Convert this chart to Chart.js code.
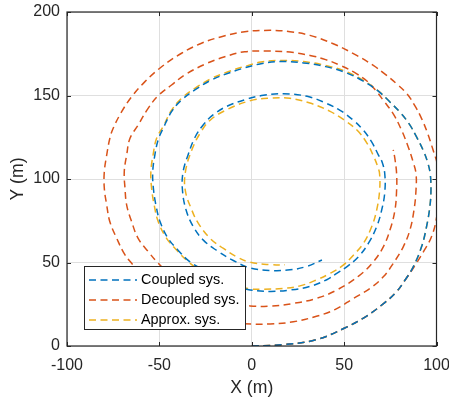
<!DOCTYPE html>
<html>
<head>
<meta charset="utf-8">
<script src="https://cdn.jsdelivr.net/npm/chart.js@4"></script>
<style>
  html, body { margin: 0; padding: 0; background: #fff; }
  #wrap { width: 449px; height: 403px; }
</style>
</head>
<body>
<div id="wrap"><canvas id="chart" width="449" height="403"></canvas></div>
<script>
// trajectories (X / Y in metres)
const seriesLabels = ['Coupled sys.', 'Decoupled sys.', 'Approx. sys.'];
const xTicks = [-100, -50, 0, 50, 100];
const yTicks = [0, 50, 100, 150, 200];

const coupledX = [0, 17, 35, 50, 62, 72, 78, 83, 87.4, 91.9, 94.6, 96.4, 97, 96.6, 95.2, 92.8, 89.2, 85.2, 80.2, 74.8,
  68.5, 60.4, 51.4, 40, 28, 15, 5, -3.8, -12.8, -21.8, -30.8, -38, -43.4, -47.9, -50.5, -52.5, -53.6, -53.2, -51.8, -49.6,
  -45.3, -40, -33.6, -26, -17, -8.5, -0.9, 9.9, 20.7, 31.5, 40.6, 46, 51.4, 57.7, 63.1, 67.6, 70.3, 72, 72, 70.6,
  68.5, 64.9, 60.4, 55, 47.8, 40, 30, 17, 6.3, -2.7, -13.5, -20.8, -26.2, -30.7, -34.3, -37.2, -37.5, -35.5, -31.6, -26.2,
  -19, -10, -0.9, 9.9, 20.7, 29.6, 38];
const coupledY = [0, 0.8, 3.8, 10.6, 17.8, 26, 32, 39.5, 47.4, 59.4, 71.4, 83.3, 93.3, 103, 110, 117.2, 125.2, 133, 140, 146.1,
  152.6, 158.6, 163.5, 167.3, 169.5, 170.3, 169, 166.6, 163.3, 159.3, 153.3, 147.3, 140.3, 130.4, 124, 114, 104, 94, 84, 74.4,
  64.5, 57.5, 50.5, 45.5, 40.2, 36, 33.6, 32.7, 33.5, 35.7, 39.7, 43.5, 47.4, 53.4, 61.4, 71.4, 81.3, 92, 103, 110,
  114.5, 122.2, 129.2, 135.2, 141.1, 145.5, 149.5, 151.1, 150.1, 147.8, 143.5, 138.5, 132.5, 125, 115, 104, 93.3, 81.3, 71.4, 63.4,
  57.2, 51.2, 46.8, 45.2, 45.6, 47.6, 51.5];

const decoupledX = [0, 17, 35, 50, 62, 72, 78, 83, 88.5, 93.5, 97.5, 100.1, 101, 101, 100.6, 98.2, 94.8, 92, 88.5, 84,
  78.4, 72.5, 65.8, 56.8, 44.1, 31.5, 20.7, 10, -3.8, -16.4, -27.2, -38, -48.8, -57.8, -65, -70.4, -75, -76.8, -78.5, -79.8,
  -79.8, -78.5, -76.8, -73.1, -68.6, -65, -56, -44, -29, -14, 0, 9.9, 22.5, 35, 45, 55, 64, 71.2, 76.6, 82,
  85.6, 87.8, 88.9, 88.9, 87.4, 84.7, 81.1, 76.6, 71.2, 67.5, 62.5, 56, 48, 40, 31.5, 20.7, 9.9, -3.8, -14.6, -25.4,
  -36.2, -43.4, -50.6, -56.1, -61.5, -65.9, -67.7, -69, -68.6, -67.7, -65, -61.5, -56, -50.6, -42, -30, -15, -0.9, 9.9, 22.5,
  35, 46, 58, 65.8, 71.2, 74.8, 77.5, 78.4, 78.4, 77.5, 76.6];
const decoupledY = [0, 0.8, 3.8, 10.6, 17.8, 26, 32, 39.5, 48.5, 57.5, 66, 77.3, 89.3, 100, 108, 117.2, 128.5, 136, 143.5, 151,
  157, 162.5, 168, 174, 181, 186, 188.2, 189, 188.2, 185.2, 181.3, 175.3, 167.2, 158.3, 149.3, 140.3, 130.4, 124.4, 114.4, 104.4,
  94.4, 84.4, 74.4, 64.5, 54.5, 49.5, 37.5, 27, 19, 14.5, 13.2, 13.2, 14.5, 17.8, 21.8, 28.5, 34.5, 41.4, 49.5, 59.4,
  69.4, 81.3, 93.3, 103.3, 110, 119.2, 129.2, 139, 147.1, 152.5, 158.5, 163.5, 168, 171.5, 174, 176, 176.6, 176.2, 173.2, 168.7,
  162.3, 156.3, 149.9, 142.3, 132.3, 124.4, 114.4, 104.4, 94.4, 84.4, 74.4, 64.5, 56.5, 49.5, 40.5, 31.5, 26, 24, 23.9, 25.5,
  28.5, 33.5, 42, 50.4, 59.4, 69.4, 81.3, 93.3, 103.3, 112, 117.5];

const approxX = [0, 17, 35, 50, 62, 72, 78, 83, 87.4, 91.9, 94.6, 96.4, 97, 96.6, 95.2, 92.8, 89.2, 85.2, 80.2, 74.8,
  68.5, 60.4, 51.4, 40, 28, 15, 5, -3.8, -12.8, -21.8, -30.8, -38, -43.4, -47.9, -51.5, -53.4, -54.6, -54.2, -52.8, -50.6,
  -46.1, -40.7, -34.4, -27.5, -18.5, -9, -0.9, 6.3, 17.1, 26.1, 35.1, 42.4, 49.5, 55, 60.4, 64.9, 67.6, 69.2, 69.2, 68.3,
  66, 62.5, 57.2, 49.8, 42.4, 31.5, 20.7, 9.9, -1, -13.5, -22.5, -27.9, -32.4, -35.8, -36, -32.4, -28.9, -22.5, -15.3, -8.1,
  -1.8, 9.9, 18];
const approxY = [0, 0.8, 3.8, 10.6, 17.8, 26, 32, 39.5, 47.4, 59.4, 71.4, 83.3, 93.3, 103, 110, 117.2, 125.2, 133, 140, 146.1,
  152.8, 159, 164.2, 168, 170.3, 171, 170, 167.4, 164.2, 160.2, 154.3, 148.3, 141.2, 131.5, 124.4, 114.4, 104.4, 94.4, 84.4, 74.4,
  64.5, 57.5, 50.5, 45, 40, 36.3, 34.2, 34, 34.5, 36, 39.6, 43.5, 48.4, 54.4, 61.4, 71.4, 81.3, 93, 103, 107,
  113.5, 121.2, 129, 135.5, 140.5, 145.5, 148.3, 148.4, 146.8, 141.5, 135.2, 127.5, 117.5, 105, 93.3, 81.3, 73.4, 64.4, 58.4, 53.4,
  50.4, 48.7, 48.6];

const colors = ['#0072BD', '#D95319', '#EDB120'];
const dash = [7, 4.5];
const FONT = '"Liberation Sans", Arial, Helvetica, sans-serif';
const INK = '#262626';
const NONE = 'rgba(0,0,0,0)';

const toPoints = (xs, ys) => xs.map((x, i) => ({ x, y: ys[i] }));
const seriesData = [toPoints(coupledX, coupledY), toPoints(decoupledX, decoupledY), toPoints(approxX, approxY)];

// box + inward ticks like the original axes
const frame = {
  id: 'frame',
  afterDatasetsDraw(chart) {
    const { ctx, chartArea: a, scales: { x, y } } = chart;
    ctx.save();
    ctx.strokeStyle = INK;
    ctx.lineWidth = 1;
    ctx.beginPath();
    xTicks.forEach(v => {
      const px = Math.round(x.getPixelForValue(v)) + 0.5;
      ctx.moveTo(px, a.bottom); ctx.lineTo(px, a.bottom - 4);
      ctx.moveTo(px, a.top); ctx.lineTo(px, a.top + 4);
    });
    yTicks.forEach(v => {
      const py = Math.round(y.getPixelForValue(v)) + 0.5;
      ctx.moveTo(a.left, py); ctx.lineTo(a.left + 4, py);
      ctx.moveTo(a.right, py); ctx.lineTo(a.right - 4, py);
    });
    ctx.stroke();
    ctx.lineWidth = 1.2;
    ctx.strokeRect(a.left, a.top, a.right - a.left, a.bottom - a.top);
    ctx.restore();
  }
};

// legend box in the lower left corner of the axes
const boxLegend = {
  id: 'boxLegend',
  afterDraw(chart) {
    const { ctx } = chart;
    ctx.save();
    ctx.fillStyle = '#fff';
    ctx.fillRect(84, 266, 161, 63);
    ctx.strokeStyle = INK;
    ctx.lineWidth = 1;
    ctx.strokeRect(84.5, 266.5, 161, 63);
    ctx.font = '14.4px ' + FONT;
    ctx.textBaseline = 'middle';
    seriesLabels.forEach((lab, i) => {
      const yy = 280 + i * 20;
      ctx.strokeStyle = colors[i];
      ctx.lineWidth = 1.5;
      ctx.setLineDash(dash);
      ctx.beginPath();
      ctx.moveTo(89, yy); ctx.lineTo(137, yy);
      ctx.stroke();
      ctx.setLineDash([]);
      ctx.fillStyle = '#000';
      ctx.fillText(lab, 141, yy);
    });
    ctx.restore();
  }
};

new Chart(document.getElementById('chart'), {
  type: 'line',
  data: {
    datasets: seriesLabels.map((label, i) => ({
      label,
      data: seriesData[i],
      borderColor: colors[i],
      backgroundColor: colors[i],
      borderWidth: 1.5,
      borderDash: dash,
      pointRadius: 1,
      pointBorderWidth: 0,
      pointBackgroundColor: NONE,
      pointBorderColor: NONE,
      tension: 0.4,
      fill: false
    }))
  },
  options: {
    responsive: false,
    animation: false,
    elements: { line: { tension: 0.4 } },
    layout: { padding: { top: 12, right: 12.5, left: 0, bottom: 0 } },
    plugins: { legend: { display: false }, tooltip: { enabled: false } },
    scales: {
      x: {
        type: 'linear', min: -100, max: 100,
        afterBuildTicks: s => { s.ticks = xTicks.map(v => ({ value: v })); },
        afterFit: s => { s.height = 57; s.paddingLeft = 0; s.paddingRight = 0; },
        grid: { color: '#dfdfdf', lineWidth: 1, drawTicks: false },
        border: { display: false },
        ticks: { padding: 9.5, color: INK, font: { family: FONT, size: 16 }, callback: v => String(v), maxRotation: 0 },
        title: { display: true, text: 'X (m)', color: INK, font: { family: FONT, size: 17.6 }, padding: { top: 0, bottom: 4 } }
      },
      y: {
        type: 'linear', min: 0, max: 200,
        afterBuildTicks: s => { s.ticks = yTicks.map(v => ({ value: v })); },
        afterFit: s => { s.width = 67; s.paddingTop = 0; s.paddingBottom = 0; },
        grid: { color: '#dfdfdf', lineWidth: 1, drawTicks: false },
        border: { display: false },
        ticks: { padding: 7, color: INK, font: { family: FONT, size: 16 }, callback: v => String(v) },
        title: { display: true, text: 'Y (m)', color: INK, font: { family: FONT, size: 17.6 }, padding: { top: 7.7, bottom: 0 } }
      }
    }
  },
  plugins: [frame, boxLegend]
});
</script>
</body>
</html>
